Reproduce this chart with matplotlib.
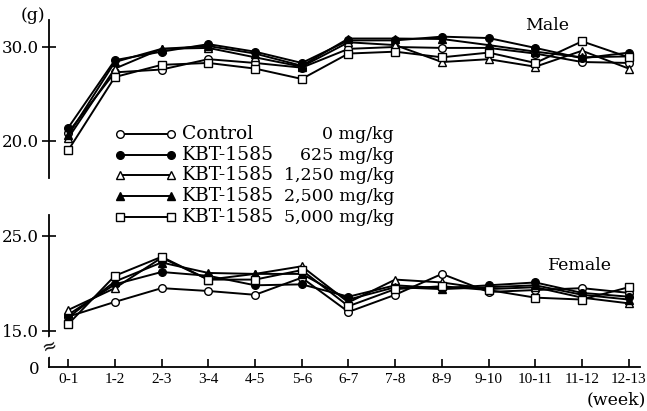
import matplotlib
matplotlib.use("Agg")
import matplotlib.pyplot as plt
from matplotlib.lines import Line2D
import numpy as np

weeks = ["0-1", "1-2", "2-3", "3-4", "4-5", "5-6", "6-7", "7-8", "8-9", "9-10", "10-11", "11-12", "12-13"]
groups = ["Control", "KBT-1585", "KBT-1585", "KBT-1585", "KBT-1585"]
doses = ["0 mg/kg", "625 mg/kg", "1,250 mg/kg", "2,500 mg/kg", "5,000 mg/kg"]

male_control = [20.9, 27.3, 27.6, 28.7, 28.3, 27.8, 29.8, 30.0, 29.9, 29.9, 29.3, 28.4, 28.3]
male_625 = [21.4, 28.6, 29.5, 30.3, 29.5, 28.3, 30.7, 30.7, 31.1, 30.95, 29.9, 28.8, 29.4]
male_1250 = [20.3, 27.7, 29.8, 29.9, 28.9, 27.9, 30.5, 30.2, 28.4, 28.7, 27.9, 29.6, 27.7]
male_2500 = [20.6, 28.4, 29.8, 30.1, 29.3, 28.0, 30.9, 30.9, 30.85, 30.2, 29.5, 28.9, 29.0]
male_5000 = [19.0, 26.8, 28.1, 28.3, 27.7, 26.6, 29.3, 29.5, 28.9, 29.4, 28.3, 30.6, 28.9]

female_control = [16.5, 18.05, 19.5, 19.2, 18.8, 20.6, 17.0, 18.8, 21.0, 19.1, 19.3, 19.5, 19.0]
female_625 = [16.7, 19.9, 21.2, 20.8, 19.8, 19.9, 18.6, 19.8, 19.5, 19.8, 20.1, 19.0, 18.6]
female_1250 = [17.2, 19.5, 22.7, 20.4, 21.0, 21.8, 18.0, 20.4, 20.1, 19.4, 19.6, 18.5, 17.9]
female_2500 = [16.4, 20.2, 22.2, 21.1, 21.0, 21.0, 18.3, 19.6, 19.4, 19.6, 19.8, 18.8, 18.3]
female_5000 = [15.7, 20.8, 22.8, 20.4, 20.4, 21.4, 17.6, 19.4, 19.7, 19.3, 18.5, 18.3, 19.6]

male = [male_control, male_625, male_1250, male_2500, male_5000]
female = [female_control, female_625, female_1250, female_2500, female_5000]

styles = [
    dict(marker="o", mfc="white"),
    dict(marker="o", mfc="black"),
    dict(marker="^", mfc="white"),
    dict(marker="^", mfc="black"),
    dict(marker="s", mfc="white"),
]

plt.rcParams["font.family"] = ["DejaVu Serif"]
W, H = 647, 411
fig = plt.figure(figsize=(W / 100, H / 100), dpi=100)

def fx(px):
    return px / W

def fy(py):
    return 1 - py / H

x = np.arange(len(weeks))
xl = (-0.41, 12.24)

# Upper (male)
axm = fig.add_axes([fx(49), fy(178), fx(640) - fx(49), fy(20) - fy(178)])
axm.set_xlim(*xl)
axm.set_ylim(16.06, 32.87)
# Lower (female)
axf = fig.add_axes([fx(49), fy(367), fx(640) - fx(49), fy(215) - fy(367)])
axf.set_xlim(*xl)
axf.set_ylim(11.2, 27.2)

for ax in (axm, axf):
    ax.patch.set_alpha(0)
    for s in ("top", "right"):
        ax.spines[s].set_visible(False)
    ax.spines["left"].set_linewidth(1.3)
    ax.spines["bottom"].set_linewidth(1.3)

axm.spines["bottom"].set_visible(False)
axm.set_xticks([])
axm.set_yticks([20, 30])
axm.set_yticklabels(["20.0", "30.0"])
axm.tick_params(axis="y", direction="inout", length=10, width=1.2, labelsize=12, pad=2)

axf.set_yticks([11.2, 15, 25])
axf.set_yticklabels(["0", "15.0", "25.0"])
axf.tick_params(axis="y", direction="inout", length=10, width=1.2, labelsize=12, pad=2)
axf.yaxis.get_major_ticks()[0].tick1line.set_visible(False)
axf.set_xticks(x)
axf.set_xticklabels(weeks, family=["Liberation Serif"], fontsize=11)
axf.tick_params(axis="x", direction="in", length=6, width=1.2, pad=4)

for vals, st in zip(male, styles):
    axm.plot(x, vals, color="black", lw=1.4, marker=st["marker"], mfc=st["mfc"],
             mec="black", ms=5.5, mew=1.0, clip_on=False, zorder=3)
for vals, st in zip(female, styles):
    axf.plot(x, vals, color="black", lw=1.4, marker=st["marker"], mfc=st["mfc"],
             mec="black", ms=5.5, mew=1.0, clip_on=False, zorder=3)

# break mark
axf.text(xl[0], 13.3, "\u2248", ha="center", va="center", fontsize=13,
         rotation=20, bbox=dict(fc="white", ec="none", pad=0.2), zorder=5)

# legend (manual)
rows_y = [134, 155, 175, 196, 217]
for g, d, st, py in zip(groups, doses, styles, rows_y):
    fig.add_artist(Line2D([fx(120), fx(171)], [fy(py), fy(py)], color="black", lw=1.4,
                          marker=st["marker"], mfc=st["mfc"], mec="black", ms=5.5, mew=1.0,
                          transform=fig.transFigure))
    fig.text(fx(182), fy(py), g, ha="left", va="center", fontsize=13.5)
    fig.text(fx(394), fy(py), d, ha="right", va="center", fontsize=12.5)

fig.text(fx(33), fy(16), "(g)", ha="center", va="center", fontsize=12.5)
fig.text(fx(547), fy(26), "Male", ha="center", va="center", fontsize=12.5)
fig.text(fx(580), fy(266), "Female", ha="center", va="center", fontsize=12.5)
fig.text(fx(616), fy(400), "(week)", ha="center", va="center", fontsize=12.5)

fig.savefig("out.png", dpi=100)
